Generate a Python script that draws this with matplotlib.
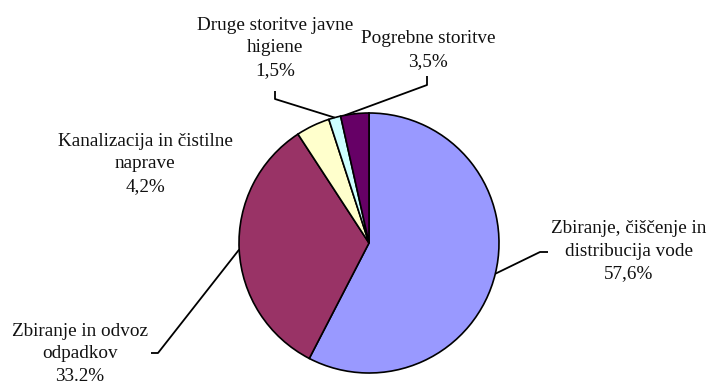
import numpy as np
import matplotlib
matplotlib.use("Agg")
import matplotlib.pyplot as plt

# Shares of municipal services
categories = [
    "Zbiranje, čiščenje in\ndistribucija vode",
    "Zbiranje in odvoz\nodpadkov",
    "Kanalizacija in čistilne\nnaprave",
    "Druge storitve javne\nhigiene",
    "Pogrebne storitve",
]
values = [57.6, 33.2, 4.2, 1.5, 3.5]
pct_labels = ["57,6%", "33.2%", "4,2%", "1,5%", "3,5%"]
colors = ["#9999FF", "#993366", "#FFFFCC", "#CCFFFF", "#660066"]

W, H = 712, 385
fig = plt.figure(figsize=(W / 100, H / 100), dpi=100)
ax = fig.add_axes([0, 0, 1, 1])


def flip(y):
    # top-down pixel rows -> axes y
    return H - y


cx, cy, R = 369, flip(243), 130
wedges, _ = ax.pie(values, colors=colors, startangle=90, counterclock=False,
                   center=(cx, cy), radius=R,
                   wedgeprops=dict(edgecolor="black", linewidth=1.2))
ax.set_xlim(0, W)
ax.set_ylim(0, H)
ax.set_aspect("equal")
ax.axis("off")

font = dict(family="Liberation Serif", fontsize=13.8, color="#111111",
            linespacing=1.45, ha="center", va="center")

# label block centres (pixels, from the top) and leader routing
label_pos = [(629, 251), (80, 354), (145, 164), (275, 48), (428, 50)]
# position along each wedge (by angle) where the leader touches the rim
anchor_frac = [0.5, 0.5, None, 0.5, 0.85]
elbows = [
    [(540, 252), (548, 252)],
    [(158, 353), (151, 353)],
    None,
    [(275, 99), (275, 91)],
    [(427, 85), (427, 76)],
]

for w, cat, pct, pos, frac, elb in zip(wedges, categories, pct_labels,
                                        label_pos, anchor_frac, elbows):
    ax.text(pos[0], flip(pos[1]), f"{cat}\n{pct}", **font)
    if elb is None:
        continue
    th = np.deg2rad(w.theta1 + frac * (w.theta2 - w.theta1))
    ax_pt = (cx + R * np.cos(th), cy + R * np.sin(th))
    xs = [ax_pt[0]] + [p[0] for p in elb]
    ys = [ax_pt[1]] + [flip(p[1]) for p in elb]
    ax.plot(xs, ys, color="black", lw=1.3, solid_capstyle="butt")

fig.savefig("out.png", dpi=100, facecolor="white")
